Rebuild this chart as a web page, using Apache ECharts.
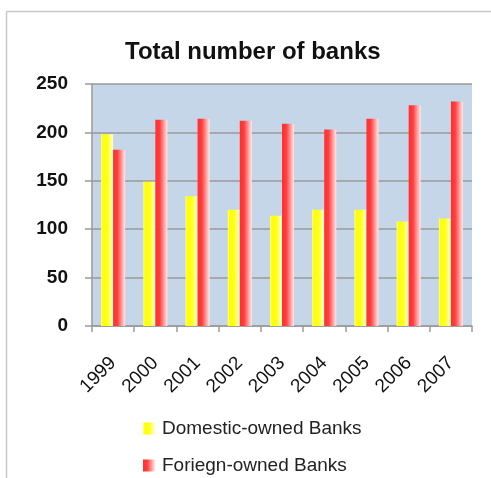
<!DOCTYPE html>
<html>
<head>
<meta charset="utf-8">
<script src="https://cdn.jsdelivr.net/npm/echarts@6/dist/echarts.min.js"></script>
<style>
  html, body { margin: 0; padding: 0; background: #ffffff; }
  #chart { width: 491px; height: 478px; }
</style>
</head>
<body>
<div id="chart"></div>
<script>
// Bank counts by year
const years = ['1999', '2000', '2001', '2002', '2003', '2004', '2005', '2006', '2007'];
const domesticBanks = [198, 149, 134, 120, 114, 120, 120, 108, 111];
const foreignBanks = [182, 213, 214, 212, 209, 203, 214, 228, 232];
const yTicks = [0, 50, 100, 150, 200, 250];
const seriesNames = ['Domestic-owned Banks', 'Foriegn-owned Banks'];

const font = '"Liberation Sans", Arial, sans-serif';

function hGrad(stops) {
  return new echarts.graphic.LinearGradient(0, 0, 1, 0,
    stops.map(s => ({ offset: s[0], color: s[1] })));
}

const yellowFill = hGrad([[0, '#ffff90'], [0.15, '#ffff00'], [0.55, '#ffff20'], [1, '#ffffd8']]);
const redFill = hGrad([[0, '#ff3030'], [0.35, '#ff3c3c'], [1, '#ffe8e8']]);

const chart = echarts.init(document.getElementById('chart'), null, { renderer: 'canvas' });

// one legend block per row, stacked under the plot
function legendRow(name, top) {
  return {
    data: [name],
    left: 138,
    top: top,
    itemWidth: 12,
    itemHeight: 12,
    itemGap: 6,
    icon: 'rect',
    textStyle: { fontFamily: font, fontSize: 19, color: '#222', padding: [0, 0, 0, 2] }
  };
}

chart.setOption({
  animation: false,
  backgroundColor: '#ffffff',
  title: {
    text: 'Total number of banks',
    left: 120,
    top: 35,
    textStyle: { fontFamily: font, fontSize: 24, fontWeight: 'bold', color: '#111' }
  },
  grid: {
    left: 92, right: 19, top: 84, bottom: 152,
    show: true, backgroundColor: '#c5d6e9', borderWidth: 0
  },
  legend: [legendRow(seriesNames[0], 414), legendRow(seriesNames[1], 451)],
  xAxis: {
    type: 'category',
    data: years,
    axisLine: { lineStyle: { color: '#9a9a9a', width: 1.5 } },
    axisTick: { show: true, length: 6, lineStyle: { color: '#9a9a9a', width: 1.5 } },
    axisLabel: { rotate: 45, margin: 34, fontFamily: font, fontSize: 19, color: '#111' }
  },
  yAxis: {
    type: 'value',
    min: yTicks[0],
    max: yTicks[yTicks.length - 1],
    interval: yTicks[1] - yTicks[0],
    axisLine: { show: true, lineStyle: { color: '#9a9a9a', width: 1.5 } },
    axisTick: { show: true, length: 7, lineStyle: { color: '#9a9a9a', width: 1.5 } },
    splitLine: { lineStyle: { color: '#9a9a9a', width: 1.5 } },
    axisLabel: { margin: 24, fontFamily: font, fontSize: 19, fontWeight: 'bold', color: '#111' }
  },
  series: [
    {
      name: seriesNames[0],
      type: 'bar',
      data: domesticBanks,
      barGap: '0%',
      barCategoryGap: '43%',
      itemStyle: { color: yellowFill }
    },
    {
      name: seriesNames[1],
      type: 'bar',
      data: foreignBanks,
      barGap: '0%',
      barCategoryGap: '43%',
      itemStyle: { color: redFill }
    }
  ],
  graphic: [
    { type: 'line', shape: { x1: 6.5, y1: 11.5, x2: 491, y2: 11.5 }, style: { stroke: '#c8c8c8', lineWidth: 1.5 } },
    { type: 'line', shape: { x1: 6.5, y1: 11.5, x2: 6.5, y2: 478 }, style: { stroke: '#c8c8c8', lineWidth: 1.5 } }
  ]
});
</script>
</body>
</html>
